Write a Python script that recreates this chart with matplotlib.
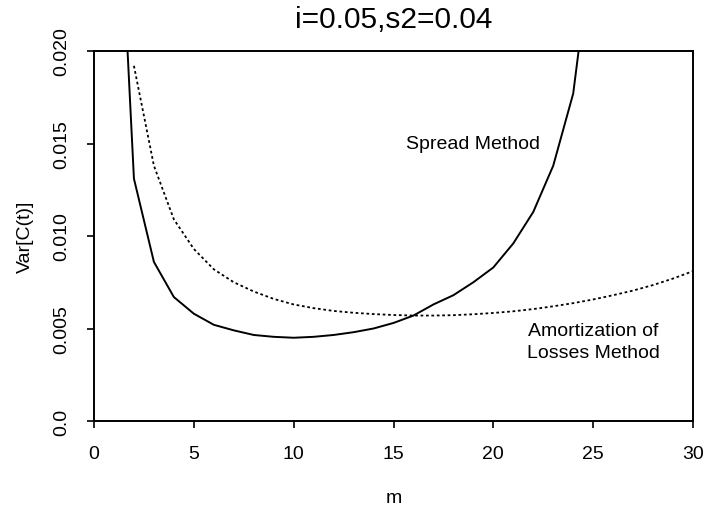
import matplotlib
matplotlib.use("Agg")
import matplotlib.pyplot as plt

# values
m_spread = list(range(1, 26))
var_spread = [0.0347, 0.0131, 0.0086, 0.0067, 0.0058, 0.0052, 0.0049, 0.00465,
              0.00455, 0.0045, 0.00455, 0.00465, 0.0048, 0.0050, 0.0053, 0.0057,
              0.0063, 0.0068, 0.0075, 0.0083, 0.0096, 0.0113, 0.0138, 0.0177, 0.0262]

m_amort = list(range(2, 31))
var_amort = [0.0192, 0.0138, 0.0109, 0.0093, 0.0082, 0.0075, 0.0070, 0.0066, 0.0063,
             0.0061, 0.00595, 0.00585, 0.00578, 0.00573, 0.00570, 0.00570, 0.00572,
             0.00577, 0.00584, 0.00593, 0.00605, 0.00620, 0.00637, 0.00657, 0.00680,
             0.00705, 0.00735, 0.00770, 0.00810]

xticks = [0, 5, 10, 15, 20, 25, 30]
yticks = [0.0, 0.005, 0.010, 0.015, 0.020]
ytick_labels = ["0.0", "0.005", "0.010", "0.015", "0.020"]

plt.rcParams['font.family'] = ['Liberation Sans', 'DejaVu Sans']

fig = plt.figure(figsize=(7.05, 5.06), dpi=100)
ax = fig.add_axes([94/705, 1-422/506, (693-94)/705, (422-52)/506])

ax.plot(m_spread, var_spread, color='black', lw=1.4)
ax.plot(m_amort, var_amort, color='black', lw=1.3, linestyle=(0, (1.5, 1.5)))

ax.set_xlim(0, 30)
ax.set_ylim(0, 0.02)
ax.set_xticks(xticks)
ax.set_yticks(yticks)
ax.set_yticklabels(ytick_labels, rotation=90, va='center')
ax.tick_params(direction='out', length=5, width=1.2, labelsize=14, pad=12)
for sp in ax.spines.values():
    sp.set_linewidth(1.4)

ax.set_xlabel("m", fontsize=14, labelpad=20)
ax.set_ylabel("Var[C(t)]", fontsize=14, labelpad=14)
ax.set_title("i=0.05,s2=0.04", fontsize=21.5, pad=17)

ax.text(19, 0.015, "Spread Method", fontsize=14, ha='center', va='center')
ax.text(25, 0.0043, "Amortization of\nLosses Method", fontsize=14,
        ha='center', va='center', linespacing=1.35)

fig.savefig("out.png", dpi=100)
